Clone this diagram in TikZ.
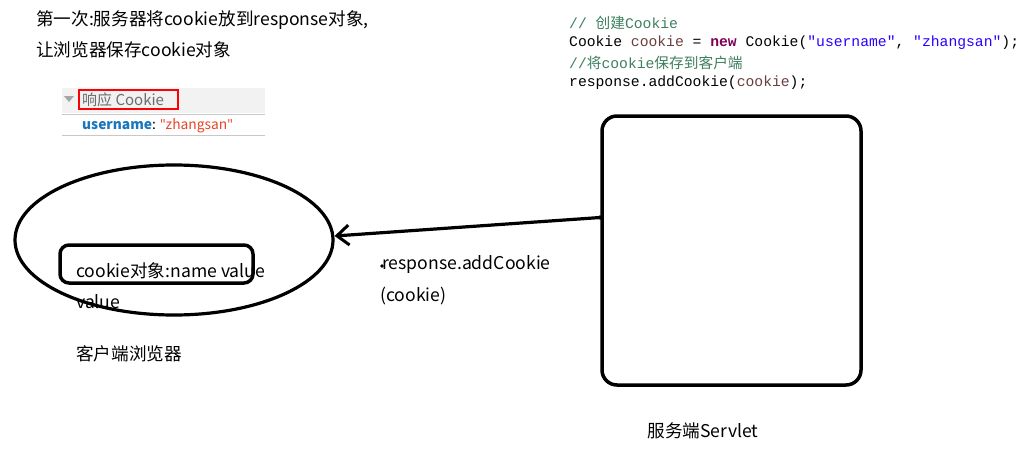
\documentclass[tikz,border=0pt]{standalone}
\usepackage{fontspec}
\setmainfont{Noto Sans CJK SC}[Ligatures=ResetAll]
\newfontfamily\cjk{Noto Sans CJK SC}[Ligatures=ResetAll]
\newfontfamily\latinfont{Noto Sans}[Ligatures=ResetAll]
\newfontfamily\codefont{Liberation Mono}[Ligatures=ResetAll]
\usetikzlibrary{shapes.geometric,arrows.meta,calc}
\definecolor{cmt}{HTML}{3F7F5F}
\definecolor{kw}{HTML}{7F0055}
\definecolor{str}{HTML}{2A00FF}
\definecolor{var}{HTML}{6A3E3E}
\definecolor{ublue}{HTML}{1A75BB}
\definecolor{ured}{HTML}{E8452A}
\definecolor{hdr}{HTML}{F2F2F2}
\definecolor{hline}{HTML}{C8C8C8}
\tikzset{
  txt/.style={anchor=west,inner sep=0pt,font=\fontsize{17.6}{20}\selectfont},
  codeline/.style={anchor=west,inner sep=0pt,font=\codefont\fontsize{14.7}{17}\selectfont},
  thick line/.style={line width=3.2pt},
}
\newcommand{\zh}[1]{{\cjk #1}}
\newcommand{\sq}{{\latinfont "}}
\begin{document}
\begin{tikzpicture}[x=1pt,y=-1pt]
\useasboundingbox (0,0) rectangle (1035,471);
% title
\node[txt] (t1) at (36,20) {第一次:服务器将cookie放到response对象,};
\node[txt] (t2) at (36,50) {让浏览器保存cookie对象};
% cookie panel
\fill[hdr] (62,88) rectangle (265,113);
\draw[hline,line width=1pt] (62,114) -- (265,114);
\draw[hline,line width=1pt] (62,135) -- (265,135);
\fill[gray!70] (64,96) -- (74,96) -- (69,102) -- cycle;
\node[txt,font=\fontsize{15}{16}\selectfont,text=gray!85!black] (hd) at (82,100) {响应 Cookie};
\draw[red,line width=1.3pt] (79,90) rectangle (178,109);
\node[txt,font=\fontsize{13.8}{16}\selectfont] (uname) at (82,126) {\textcolor{ublue}{\bfseries username}: \textcolor{ured}{\sq zhangsan\sq}};
% code
\node[codeline] (c1) at (569,23) {\textcolor{cmt}{// \zh{创建}Cookie}};
\node[codeline] (c2) at (569,43) {Cookie \textcolor{var}{cookie} = \textcolor{kw}{\bfseries new} Cookie(\textcolor{str}{"username"}, \textcolor{str}{"zhangsan"});};
\node[codeline] (c3) at (569,63) {\textcolor{cmt}{//\zh{将}cookie\zh{保存到客户端}}};
\node[codeline] (c4) at (569,83) {response.addCookie(\textcolor{var}{cookie});};
% browser
\node[draw,ellipse,thick line,minimum width=318pt,minimum height=150pt,inner sep=0pt] (browser) at (174,240) {};
\node[draw,line width=3.5pt,rounded corners=9pt,minimum width=193pt,minimum height=38pt,inner sep=0pt] (cobj) at (156.5,264) {};
\node[txt] (cname) at (76,271) {cookie对象:name value};
\node[txt] (cval) at (76,302) {value};
\node[txt] (cli) at (76,354) {客户端浏览器};
% server
\node[draw,line width=3.5pt,rounded corners=15pt,minimum width=259pt,minimum height=269pt,inner sep=0pt] (server) at (731.5,250.5) {};
\node[txt,anchor=center] (srv) at (703,431) {服务端Servlet};
% arrow
\coordinate (s) at ($(server.west)+(0,-33)$);
\coordinate (e) at ($(browser.east)+(0,-4)$);
\draw[thick line,-{Straight Barb[length=12pt,width=20pt,line width=3pt]}] (s) -- (e);
\fill (s) circle (2.2pt);
% label
\fill (382,266) circle (1.8pt);
\node[txt] (lab1) at (382,265) {response.addCookie};
\node[txt] (lab2) at (380,296) {(cookie)};
\end{tikzpicture}
\end{document}
